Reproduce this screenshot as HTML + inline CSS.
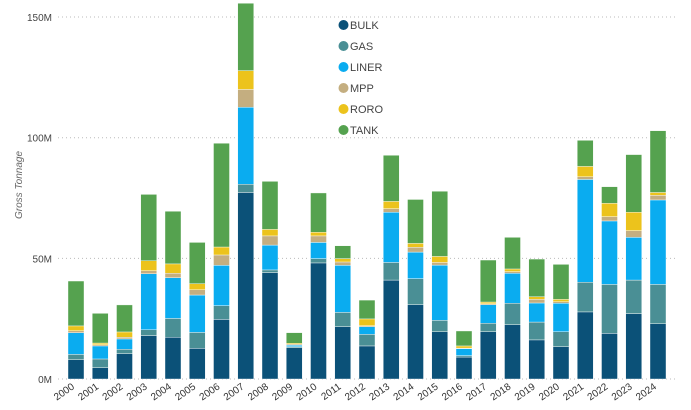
<!DOCTYPE html>
<html><head><meta charset="utf-8"><style>
body{margin:0;background:#fff;}
svg{display:block;font-family:"Liberation Sans",sans-serif;}
</style></head><body>
<svg id="chart" width="691" height="410"></svg>
<script>
const years=[2000,2001,2002,2003,2004,2005,2006,2007,2008,2009,2010,2011,2012,2013,2014,2015,2016,2017,2018,2019,2020,2021,2022,2023,2024];
const bulk=[8.0,4.7,10.5,18.0,17.3,12.7,24.7,77.3,44.1,13.0,48.1,21.7,13.7,41.0,30.8,19.6,9.1,19.6,22.5,16.2,13.4,27.8,18.9,27.1,22.9];
const gas=[2.2,3.6,1.8,2.4,7.8,6.6,5.7,3.4,1.1,0.4,1.8,5.9,4.8,7.3,10.8,4.7,0.6,3.5,8.9,7.4,6.2,12.3,20.3,13.9,16.3];
const liner=[9.0,5.4,4.3,23.2,16.9,15.5,16.7,31.9,10.3,0.6,6.7,19.5,3.2,20.8,11.0,22.9,2.9,7.7,12.4,7.9,11.8,42.6,26.3,17.7,35.0];
const mpp=[0.8,0.5,0.7,1.3,1.8,2.2,4.3,7.4,3.8,0.4,2.7,1.4,0.4,1.5,2.0,1.1,0.2,0.4,0.7,1.5,0.6,1.1,1.8,2.8,1.9];
const roro=[2.0,0.7,2.2,4.1,3.9,2.5,3.3,7.8,2.7,0.4,1.5,1.4,2.8,3.0,1.6,2.5,0.9,0.7,1.1,1.1,1.0,4.3,5.5,7.6,1.2];
const tank=[18.6,12.3,11.2,27.5,21.8,17.1,43.0,27.9,19.9,4.4,16.3,5.3,7.8,19.1,18.2,27.0,6.2,17.4,13.1,15.6,14.5,10.8,6.9,23.9,25.6];
const seriesNames=["BULK","GAS","LINER","MPP","RORO","TANK"];
const seriesColors=["#0b5178","#4a8f95","#0aacf0","#c4ae80","#ecc31c","#55a24f"];
const yTicks=[0,50,100,150];
const yTickLabels=["0M","50M","100M","150M"];

const NS="http://www.w3.org/2000/svg";
const svg=document.getElementById("chart");
function el(tag,attrs,parent){const e=document.createElementNS(NS,tag);for(const k in attrs)e.setAttribute(k,attrs[k]);(parent||svg).appendChild(e);return e;}
const y0=379,pxPerM=2.413;
function yScale(v){return y0-v*pxPerM;}
const x0=68,pitch=24.25,bw=16;
function xScale(i){return x0+i*pitch;}

// gridlines and y ticks
yTicks.forEach((t,i)=>{
  const g=el("line",{x1:58,x2:676,y1:yScale(t),y2:yScale(t),stroke:"#bbb","stroke-dasharray":"1 3","stroke-width":1});
  
  
  const tx=el("text",{x:52,y:yScale(t)+4,"text-anchor":"end","font-size":10,fill:"#444"});
  tx.textContent=yTickLabels[i];
  
  
});
const yt=el("text",{x:0,y:0,transform:"translate(22,185) rotate(-90)","text-anchor":"middle","font-size":10,"font-style":"italic",fill:"#666"});
yt.textContent="Gross Tonnage";



const series=[bulk,gas,liner,mpp,roro,tank];
years.forEach((yr,i)=>{
  let cum=0;
  series.forEach((s,k)=>{
    const v=s[i];
    const r=el("rect",{x:xScale(i),y:yScale(cum+v),width:bw,height:v*pxPerM,fill:seriesColors[k],stroke:"#fff","stroke-width":0.4});
    
    
    cum+=v;
  });
  const cx=xScale(i)+bw/2;
  const lab=el("text",{x:0,y:0,transform:`translate(${cx-1},388) rotate(-35)`,"text-anchor":"end","font-size":10,fill:"#333"});
  lab.textContent=yr;
  
  
});

// legend
seriesNames.forEach((n,k)=>{
  const yy=25+k*21;
  const c=el("circle",{cx:343.5,cy:yy,r:5,fill:seriesColors[k]});
  
  
  const t=el("text",{x:350,y:yy+4,"font-size":11,fill:"#444"});
  t.textContent=n;
  
  
});
</script>
</body></html>
